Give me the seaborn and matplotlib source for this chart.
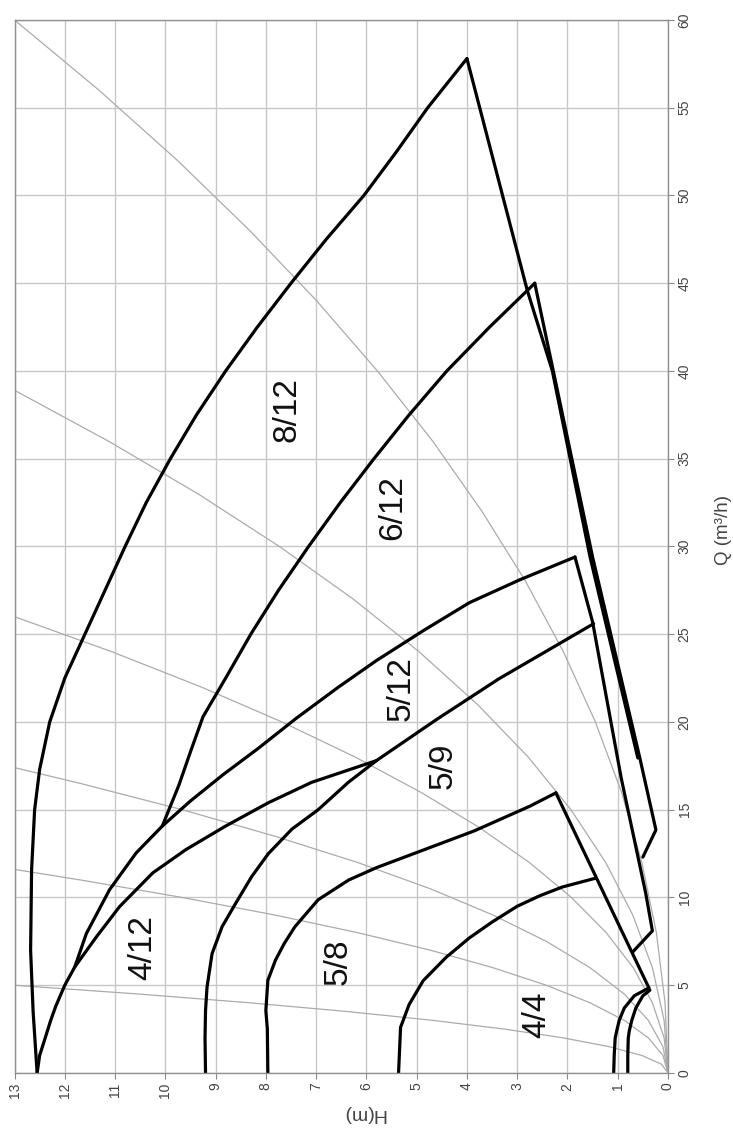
import matplotlib
matplotlib.use("Agg")
import matplotlib.pyplot as plt
import seaborn as sns
import pandas as pd

# ---------------- data (Q in m3/h, H in m) ----------------
# max (upper) curves
q_812 = [0, 3.5, 7, 11.6, 15, 17.3, 20, 22.5, 25, 27.5, 30, 32.5, 35, 37.5, 40,
         42.5, 45, 47.5, 50, 52.5, 55, 57.8]
h_812 = [12.55, 12.63, 12.68, 12.66, 12.6, 12.5, 12.3, 12.0, 11.6, 11.2, 10.8,
         10.38, 9.9, 9.38, 8.8, 8.17, 7.5, 6.8, 6.05, 5.4, 4.78, 4.0]

q_412 = [0, 1.0, 1.9, 3.0, 3.8, 5.0, 6.05, 7.76, 9.48, 11.4, 12.73, 14.07, 15.4,
         16.56, 17.32, 17.8]
h_412 = [12.55, 12.5, 12.4, 12.28, 12.18, 12.0, 11.8, 11.37, 10.91, 10.25, 9.59,
         8.8, 7.95, 7.09, 6.3, 5.8]

q_512 = [6.05, 7.95, 10.44, 12.54, 14.07, 15.5, 17.0, 18.5, 20.2, 22.0, 23.5,
         25.2, 26.8, 28.1, 29.4]
h_512 = [11.8, 11.57, 11.11, 10.58, 10.06, 9.5, 8.85, 8.15, 7.4, 6.55, 5.8,
         4.87, 3.95, 2.95, 1.85]

q_612 = [14.07, 15.2, 16.4, 18.3, 20.3, 22.5, 25, 27.5, 30, 32.5, 35, 37.5, 40,
         42.5, 45.0]
h_612 = [10.06, 9.9, 9.73, 9.5, 9.25, 8.8, 8.3, 7.75, 7.15, 6.52, 5.85, 5.15,
         4.4, 3.55, 2.65]

q_59 = [0, 2, 3.56, 4.9, 6.8, 8.34, 9.67, 11.2, 12.5, 13.9, 15.0, 16.56, 17.8,
        20.15, 22.45, 25.6]
h_59 = [9.2, 9.21, 9.2, 9.17, 9.07, 8.87, 8.6, 8.28, 7.95, 7.48, 6.96, 6.36, 5.8,
        4.6, 3.37, 1.48]

q_58 = [0, 2.5, 3.56, 5.28, 6.42, 7.4, 8.34, 9.87, 11.0, 11.7, 12.4, 13.1, 13.8,
        14.5, 15.2, 15.96]
h_58 = [7.96, 7.97, 8.0, 7.96, 7.81, 7.63, 7.42, 6.96, 6.35, 5.8, 5.15, 4.5,
        3.85, 3.3, 2.75, 2.23]

q_44 = [0, 2.6, 3.9, 5.26, 6.6, 7.7, 8.6, 9.5, 10.1, 10.6, 11.1]
h_44 = [5.36, 5.32, 5.15, 4.87, 4.41, 3.95, 3.5, 3.0, 2.55, 2.1, 1.44]

# lower boundary lines
q_low_812 = [57.8, 44.6, 40.0, 29.4, 17.95]
h_low_812 = [4.0, 2.8, 2.3, 1.55, 0.6]

q_low_612 = [45.0, 29.4, 17.95, 13.85, 12.3]
h_low_612 = [2.65, 1.5, 0.56, 0.24, 0.5]

q_low_512 = [29.4, 25.7, 16.8, 10.2, 8.1, 6.9]
h_low_512 = [1.85, 1.5, 0.93, 0.44, 0.31, 0.7]

q_low_58 = [15.96, 4.85]
h_low_58 = [2.23, 0.38]

# minimum curves near the origin
q_min_a = [4.85, 4.4, 3.7, 3.0, 2.4, 2.0, 1.0, 0]
h_min_a = [0.38, 0.67, 0.87, 0.97, 1.02, 1.05, 1.07, 1.08]
q_min_b = [4.72, 4.4, 3.7, 3.0, 2.4, 2.0, 1.0, 0]
h_min_b = [0.36, 0.5, 0.64, 0.72, 0.77, 0.79, 0.8, 0.8]

# grey system curves (through the origin)
q_sys1 = [0, 4, 8, 12, 16, 20, 24, 28, 32, 36, 40, 44, 48, 52, 56, 60]
h_sys1 = [0, 0.058, 0.231, 0.52, 0.924, 1.444, 2.08, 2.83, 3.70, 4.68, 5.78,
          6.99, 8.32, 9.76, 11.32, 13.0]
q_sys2 = [0, 3, 6, 9, 12, 15, 18, 21, 24, 27, 30, 33, 36, 38.9]
h_sys2 = [0, 0.077, 0.31, 0.70, 1.24, 1.93, 2.78, 3.79, 4.95, 6.26, 7.73, 9.35,
          11.13, 13.0]
q_sys3 = [0, 2, 4, 6, 8, 10, 12, 14, 16, 18, 20, 22, 24, 26]
h_sys3 = [0, 0.077, 0.31, 0.69, 1.23, 1.92, 2.76, 3.76, 4.92, 6.22, 7.68, 9.29,
          11.06, 13.0]
q_sys4 = [0, 1.5, 3, 4.5, 6, 7.5, 9, 10.5, 12, 13.5, 15, 16.5, 17.4]
h_sys4 = [0, 0.1, 0.39, 0.87, 1.55, 2.42, 3.48, 4.73, 6.18, 7.83, 9.66, 11.69, 13.0]
q_sys5 = [0, 1, 2, 3, 4, 5, 6, 7, 8, 9, 10, 11, 11.6]
h_sys5 = [0, 0.1, 0.39, 0.87, 1.55, 2.42, 3.48, 4.73, 6.18, 7.82, 9.66, 11.69, 13.0]
q_sys6 = [0, 0.5, 1, 1.5, 2, 2.5, 3, 3.5, 4, 4.5, 5.0]
h_sys6 = [0, 0.13, 0.52, 1.17, 2.08, 3.25, 4.68, 6.37, 8.32, 10.53, 13.0]

# curve labels
label_text = ["8/12", "6/12", "5/12", "5/9", "4/12", "5/8", "4/4"]
label_h = [7.57, 5.47, 5.3, 4.47, 10.44, 6.56, 2.62]
label_q = [37.8, 32.2, 21.9, 17.5, 7.15, 6.33, 3.33]

h_ticks = list(range(0, 14))
q_ticks = list(range(0, 61, 5))

# ---------------- drawing ----------------
sns.set_theme(style="white")
plt.rcParams["font.family"] = ["Liberation Sans", "DejaVu Sans"]

fig = plt.figure(figsize=(7.33, 11.29), dpi=100)
ax = fig.add_axes([0.0198, 0.0496, 0.8915, 0.9327])

grey_sets = [(q_sys1, h_sys1), (q_sys2, h_sys2), (q_sys3, h_sys3),
             (q_sys4, h_sys4), (q_sys5, h_sys5), (q_sys6, h_sys6)]
for q, h in grey_sets:
    df = pd.DataFrame({"H": h, "Q": q})
    sns.lineplot(data=df, x="H", y="Q", sort=False, estimator=None,
                 color="#ababab", linewidth=0.9, ax=ax)

black_sets = [(q_812, h_812), (q_412, h_412), (q_512, h_512), (q_612, h_612),
              (q_59, h_59), (q_58, h_58), (q_44, h_44),
              (q_low_812, h_low_812), (q_low_612, h_low_612),
              (q_low_512, h_low_512), (q_low_58, h_low_58),
              (q_min_a, h_min_a), (q_min_b, h_min_b)]
for q, h in black_sets:
    df = pd.DataFrame({"H": h, "Q": q})
    sns.lineplot(data=df, x="H", y="Q", sort=False, estimator=None,
                 color="black", linewidth=2.3, ax=ax)

for t, h, q in zip(label_text, label_h, label_q):
    ax.text(h, q, t, rotation=90, fontsize=24, ha="center", va="center",
            color="#111111")

ax.set_xlim(13, 0)
ax.set_ylim(0, 60)
ax.set_xticks(h_ticks)
ax.set_yticks(q_ticks)
ax.grid(True, color="#c8c8c8", linewidth=1.0)
ax.set_axisbelow(True)

ax.yaxis.tick_right()
ax.yaxis.set_label_position("right")
ax.tick_params(axis="y", which="both", right=True, left=False, length=4,
               width=0.8, color="#888888", labelsize=10, labelcolor="#444444",
               labelrotation=90, pad=3)
ax.tick_params(axis="x", which="both", bottom=True, length=4, width=0.8,
               color="#888888", labelsize=10, labelcolor="#444444",
               labelrotation=90, pad=3)
for lab in ax.get_yticklabels():
    lab.set_verticalalignment("center")

for s in ax.spines.values():
    s.set_color("#909090")
    s.set_linewidth(1.0)

ax.set_ylabel("Q (m³/h)", fontsize=13.5, color="#444444", rotation=90)
ax.yaxis.set_label_coords(1.072, 0.516)
ax.set_xlabel("H(m)", fontsize=14, color="#444444", rotation=180)
ax.xaxis.set_label_coords(0.535, -0.03)

fig.savefig("out.png", dpi=100)
